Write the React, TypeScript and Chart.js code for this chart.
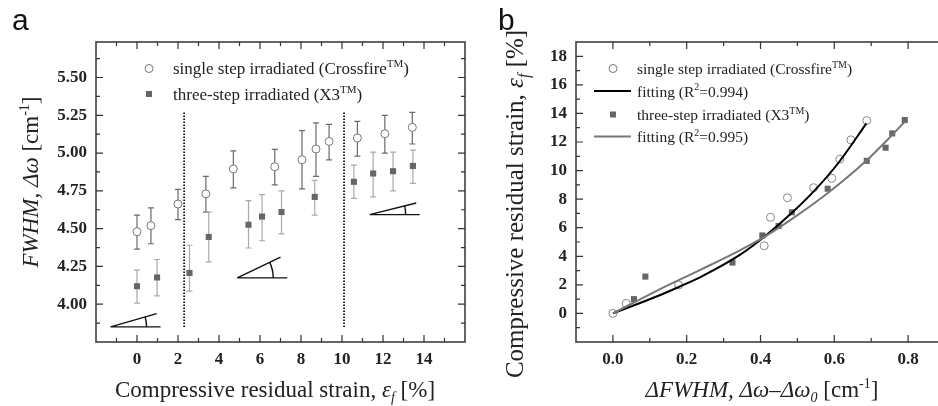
import React, { useEffect, useRef } from "react";
import { Chart, registerables } from "chart.js";
Chart.register(...registerables);

const SERIF = '"Liberation Serif", "Times New Roman", serif';
const SANS = '"Liberation Sans", Arial, sans-serif';

// ---------- Panel a data ----------
const A_CIRC_X = [0, 0.68, 2.0, 3.36, 4.7, 6.72, 8.05, 8.73, 9.37, 10.75, 12.09, 13.43];
const A_CIRC_Y = [4.48, 4.52, 4.663, 4.73, 4.895, 4.91, 4.956, 5.027, 5.077, 5.1, 5.128, 5.17];
const A_CIRC_HI = [4.59, 4.637, 4.76, 4.846, 5.015, 5.024, 5.148, 5.2, 5.19, 5.21, 5.25, 5.27];
const A_CIRC_LO = [4.365, 4.4, 4.56, 4.61, 4.77, 4.79, 4.763, 4.846, 4.955, 4.98, 5.0, 5.06];
const A_SQ_X = [0, 0.98, 2.56, 3.5, 5.44, 6.1, 7.05, 8.67, 10.58, 11.52, 12.49, 13.46];
const A_SQ_Y = [4.119, 4.177, 4.207, 4.445, 4.526, 4.58, 4.61, 4.71, 4.81, 4.865, 4.88, 4.915];
const A_SQ_HI = [4.225, 4.296, 4.39, 4.61, 4.685, 4.725, 4.75, 4.82, 4.92, 5.007, 5.007, 5.02];
const A_SQ_LO = [4.007, 4.055, 4.086, 4.28, 4.372, 4.42, 4.465, 4.59, 4.7, 4.71, 4.75, 4.8];
const A_DIVIDER_X = [2.3, 10.1];
const A_DIVIDER_Y = [3.85, 5.27];
const A_GLYPH_X = [-1.29, 4.89, 11.35];
const A_GLYPH_Y = [3.85, 4.174, 4.593];
const A_GLYPH_DEG = [16, 25.6, 14];
const A_X_TICKS = [0, 2, 4, 6, 8, 10, 12, 14];
const A_X_MINOR = [-1, 1, 3, 5, 7, 9, 11, 13, 15];
const A_Y_TICKS = [4.0, 4.25, 4.5, 4.75, 5.0, 5.25, 5.5];
const A_Y_MINOR = [3.875, 4.125, 4.375, 4.625, 4.875, 5.125, 5.375, 5.625];

// ---------- Panel b data ----------
const B_CIRC_X = [0, 0.036, 0.178, 0.41, 0.427, 0.473, 0.544, 0.593, 0.615, 0.645, 0.688];
const B_CIRC_Y = [0, 0.7, 1.99, 4.74, 6.73, 8.1, 8.8, 9.46, 10.8, 12.15, 13.5];
const B_SQ_X = [0.057, 0.088, 0.324, 0.405, 0.449, 0.485, 0.582, 0.688, 0.739, 0.757, 0.791];
const B_SQ_Y = [1.0, 2.58, 3.56, 5.46, 6.12, 7.08, 8.73, 10.68, 11.6, 12.6, 13.54];
const B_FIT1_X = [0, 0.12, 0.18, 0.241, 0.344, 0.407, 0.4875, 0.55, 0.613, 0.687];
const B_FIT1_Y = [0, 1.2, 1.87, 2.6, 4.1, 5.3, 7.1, 8.7, 10.6, 13.3];
const B_FIT2_X = [0, 0.12, 0.241, 0.344, 0.407, 0.4875, 0.586, 0.685, 0.757, 0.791];
const B_FIT2_Y = [0, 1.6, 3.1, 4.42, 5.3, 6.65, 8.5, 10.65, 12.5, 13.42];
const B_X_TICKS = [0, 0.2, 0.4, 0.6, 0.8];
const B_X_MINOR = [0.1, 0.3, 0.5, 0.7];
const B_Y_TICKS = [0, 2, 4, 6, 8, 10, 12, 14, 16, 18];
const B_Y_MINOR = [-1, 1, 3, 5, 7, 9, 11, 13, 15, 17];

type Seg = { t: string; i?: boolean; sup?: boolean; sub?: boolean };

const STRAIN_TITLE: Seg[] = [
  { t: "Compressive residual strain, " },
  { t: "ε", i: true },
  { t: "f", i: true, sub: true },
  { t: " [%]" },
];
const FWHM_TITLE: Seg[] = [
  { t: "FWHM, Δω", i: true },
  { t: " [cm" },
  { t: "-1", sup: true },
  { t: "]" },
];
const DFWHM_TITLE: Seg[] = [
  { t: "ΔFWHM, Δω–Δω", i: true },
  { t: "0", i: true, sub: true },
  { t: " [cm" },
  { t: "-1", sup: true },
  { t: "]" },
];
const LEG_CROSS: Seg[] = [{ t: "single step irradiated (Crossfire" }, { t: "TM", sup: true }, { t: ")" }];
const LEG_X3: Seg[] = [{ t: "three-step irradiated (X3" }, { t: "TM", sup: true }, { t: ")" }];
const LEG_FIT1: Seg[] = [{ t: "fitting (R" }, { t: "2", sup: true }, { t: "=0.994)" }];
const LEG_FIT2: Seg[] = [{ t: "fitting (R" }, { t: "2", sup: true }, { t: "=0.995)" }];

const INK = "#222";
const CIRC_COLOR = "#777";
const SQ_COLOR = "#666";
const CIRC_ERR = "#6a6a6a";
const SQ_ERR = "#aaa";

function drawRich(ctx: CanvasRenderingContext2D, segs: Seg[], x: number, y: number, size: number, align: "center" | "left", rot = false) {
  ctx.save();
  ctx.translate(x, y);
  if (rot) ctx.rotate(-Math.PI / 2);
  const fontOf = (s: Seg) => `${s.i ? "italic " : ""}${s.sup || s.sub ? Math.round(size * 0.62) : size}px ${SERIF}`;
  let total = 0;
  const widths = segs.map((s) => {
    ctx.font = fontOf(s);
    const w = ctx.measureText(s.t).width;
    total += w;
    return w;
  });
  let cx = align === "center" ? -total / 2 : 0;
  ctx.textBaseline = "alphabetic";
  ctx.textAlign = "left";
  ctx.fillStyle = INK;
  segs.forEach((s, k) => {
    ctx.font = fontOf(s);
    const dy = s.sup ? -size * 0.4 : s.sub ? size * 0.22 : 0;
    ctx.fillText(s.t, cx, dy);
    cx += widths[k];
  });
  ctx.restore();
}

type LegendRow = { kind: "circle" | "square" | "line"; color: string; segs: Seg[] };

type Spec = {
  label: string;
  labelX: number;
  xMajor: number[];
  xMinor: number[];
  yMajor: number[];
  yMinor: number[];
  xTitle: Seg[];
  xTitleX: number;
  xTitleSize: number;
  yTitle: Seg[];
  yTitleY: number;
  yTitleX: number;
  yTitleSize: number;
  legend: LegendRow[];
  legendSize: number;
  legendMarkerX: number;
  legendTextX: number;
  legendBaselines: number[];
  errors?: { xs: number[]; lo: number[]; hi: number[]; color: string }[];
  glyphs?: { xs: number[]; ys: number[]; deg: number[] };
};

function makePlugin(spec: Spec) {
  return {
    id: "frame_" + spec.label,
    beforeDatasetsDraw(chart: any) {
      const ctx: CanvasRenderingContext2D = chart.ctx;
      const xs = chart.scales.x;
      const ys = chart.scales.y;
      (spec.errors || []).forEach((e) => {
        ctx.save();
        ctx.strokeStyle = e.color;
        ctx.lineWidth = 1.2;
        e.xs.forEach((xv, k) => {
          const px = xs.getPixelForValue(xv);
          const p1 = ys.getPixelForValue(e.lo[k]);
          const p2 = ys.getPixelForValue(e.hi[k]);
          ctx.beginPath();
          ctx.moveTo(px, p1);
          ctx.lineTo(px, p2);
          ctx.moveTo(px - 3, p1);
          ctx.lineTo(px + 3, p1);
          ctx.moveTo(px - 3, p2);
          ctx.lineTo(px + 3, p2);
          ctx.stroke();
        });
        ctx.restore();
      });
      if (spec.glyphs) {
        const g = spec.glyphs;
        ctx.save();
        ctx.strokeStyle = "#111";
        ctx.lineWidth = 1.4;
        g.xs.forEach((xv, k) => {
          const ox = xs.getPixelForValue(xv);
          const oy = ys.getPixelForValue(g.ys[k]);
          const a = (g.deg[k] * Math.PI) / 180;
          ctx.beginPath();
          ctx.moveTo(ox, oy);
          ctx.lineTo(ox + 50, oy);
          ctx.moveTo(ox, oy);
          ctx.lineTo(ox + 48 * Math.cos(a), oy - 48 * Math.sin(a));
          ctx.stroke();
          ctx.beginPath();
          ctx.arc(ox, oy, 36, -a, 0);
          ctx.stroke();
        });
        ctx.restore();
      }
    },
    afterDraw(chart: any) {
      const ctx: CanvasRenderingContext2D = chart.ctx;
      const { left, right, top, bottom } = chart.chartArea;
      const xs = chart.scales.x;
      const ys = chart.scales.y;
      ctx.save();
      ctx.strokeStyle = "#333";
      ctx.lineWidth = 1.5;
      ctx.strokeRect(left, top, right - left, bottom - top);
      ctx.lineWidth = 1.2;
      ctx.beginPath();
      const tickX = (v: number, len: number) => {
        const p = xs.getPixelForValue(v);
        ctx.moveTo(p, bottom);
        ctx.lineTo(p, bottom - len);
        ctx.moveTo(p, top);
        ctx.lineTo(p, top + len);
      };
      const tickY = (v: number, len: number) => {
        const p = ys.getPixelForValue(v);
        ctx.moveTo(left, p);
        ctx.lineTo(left + len, p);
        ctx.moveTo(right, p);
        ctx.lineTo(right - len, p);
      };
      spec.xMajor.forEach((v) => tickX(v, 7));
      spec.xMinor.forEach((v) => tickX(v, 4));
      spec.yMajor.forEach((v) => tickY(v, 7));
      spec.yMinor.forEach((v) => tickY(v, 4));
      ctx.stroke();
      ctx.restore();

      // titles
      drawRich(ctx, spec.xTitle, spec.xTitleX, 397, spec.xTitleSize, "center");
      drawRich(ctx, spec.yTitle, spec.yTitleX, spec.yTitleY, spec.yTitleSize, "center", true);

      // legend
      spec.legend.forEach((row, k) => {
        const by = spec.legendBaselines[k];
        const my = by - 5.5;
        ctx.save();
        if (row.kind === "circle") {
          ctx.beginPath();
          ctx.arc(spec.legendMarkerX, my, 4, 0, Math.PI * 2);
          ctx.fillStyle = "#fff";
          ctx.fill();
          ctx.strokeStyle = row.color;
          ctx.lineWidth = 1;
          ctx.stroke();
        } else if (row.kind === "square") {
          ctx.fillStyle = row.color;
          ctx.fillRect(spec.legendMarkerX - 3, my - 3, 6, 6);
        } else {
          ctx.strokeStyle = row.color;
          ctx.lineWidth = 2;
          ctx.beginPath();
          ctx.moveTo(spec.legendMarkerX - 19, my);
          ctx.lineTo(spec.legendMarkerX + 18, my);
          ctx.stroke();
        }
        ctx.restore();
        drawRich(ctx, row.segs, spec.legendTextX, by, spec.legendSize, "left");
      });

      // panel letter
      ctx.save();
      ctx.font = `30px ${SANS}`;
      ctx.fillStyle = "#111";
      ctx.textBaseline = "alphabetic";
      ctx.fillText(spec.label, spec.labelX, 30);
      ctx.restore();
    },
  };
}

const pts = (xs: number[], ys: number[]) => xs.map((x, i) => ({ x, y: ys[i] }));

function baseScales(
  xMin: number, xMax: number, yMin: number, yMax: number,
  xTicks: number[], yTicks: number[], xDigits: number, yDigits: number,
  yWidth: number
) {
  const tickFont = { family: SERIF, size: 17, weight: "bold" as const };
  return {
    x: {
      type: "linear" as const,
      min: xMin,
      max: xMax,
      grid: { display: false, drawTicks: false },
      border: { display: false },
      afterBuildTicks: (axis: any) => {
        axis.ticks = xTicks.map((v) => ({ value: v }));
      },
      afterFit: (axis: any) => {
        axis.height = 64;
      },
      ticks: {
        autoSkip: false,
        maxRotation: 0,
        padding: 7,
        color: INK,
        font: tickFont,
        callback: (v: number) => Number(v).toFixed(xDigits),
      },
    },
    y: {
      type: "linear" as const,
      min: yMin,
      max: yMax,
      grid: { display: false, drawTicks: false },
      border: { display: false },
      afterBuildTicks: (axis: any) => {
        axis.ticks = yTicks.map((v) => ({ value: v }));
      },
      afterFit: (axis: any) => {
        axis.width = yWidth;
      },
      ticks: {
        autoSkip: false,
        padding: 9,
        color: INK,
        font: tickFont,
        callback: (v: number) => Number(v).toFixed(yDigits),
      },
    },
  };
}

function configA() {
  const spec: Spec = {
    label: "a",
    labelX: 12,
    xMajor: A_X_TICKS,
    xMinor: A_X_MINOR,
    yMajor: A_Y_TICKS,
    yMinor: A_Y_MINOR,
    xTitle: STRAIN_TITLE,
    xTitleX: 275,
    xTitleSize: 23,
    yTitle: FWHM_TITLE,
    yTitleY: 182,
    yTitleX: 38,
    yTitleSize: 23,
    legend: [
      { kind: "circle", color: CIRC_COLOR, segs: LEG_CROSS },
      { kind: "square", color: SQ_COLOR, segs: LEG_X3 },
    ],
    legendSize: 17,
    legendMarkerX: 149,
    legendTextX: 173,
    legendBaselines: [74, 99.5],
    errors: [
      { xs: A_CIRC_X, lo: A_CIRC_LO, hi: A_CIRC_HI, color: CIRC_ERR },
      { xs: A_SQ_X, lo: A_SQ_LO, hi: A_SQ_HI, color: SQ_ERR },
    ],
    glyphs: { xs: A_GLYPH_X, ys: A_GLYPH_Y, deg: A_GLYPH_DEG },
  };
  return {
    type: "scatter" as const,
    data: {
      datasets: [
        ...A_DIVIDER_X.map((dx) => ({
          type: "line" as const,
          data: A_DIVIDER_Y.map((y) => ({ x: dx, y })),
          borderColor: "#111",
          borderWidth: 1.8,
          borderDash: [1.5, 1.5],
          pointRadius: 0,
          showLine: true,
        })),
        {
          data: pts(A_SQ_X, A_SQ_Y),
          pointStyle: "rect",
          pointRadius: 4.3,
          backgroundColor: SQ_COLOR,
          borderColor: SQ_COLOR,
          borderWidth: 0,
        },
        {
          data: pts(A_CIRC_X, A_CIRC_Y),
          pointStyle: "circle",
          pointRadius: 4,
          backgroundColor: "#fff",
          borderColor: CIRC_COLOR,
          borderWidth: 1,
        },
      ],
    },
    options: {
      responsive: false,
      animation: false as const,
      layout: { padding: { top: 42, left: 0, right: 3, bottom: 0 } },
      plugins: { legend: { display: false }, tooltip: { enabled: false } },
      scales: baseScales(-2, 16, 3.75, 5.735, A_X_TICKS, A_Y_TICKS, 0, 2, 96),
    },
    plugins: [makePlugin(spec)],
  };
}

function configB() {
  const spec: Spec = {
    label: "b",
    labelX: 28,
    xMajor: B_X_TICKS,
    xMinor: B_X_MINOR,
    yMajor: B_Y_TICKS,
    yMinor: B_Y_MINOR,
    xTitle: DFWHM_TITLE,
    xTitleX: 292,
    xTitleSize: 23,
    yTitle: STRAIN_TITLE,
    yTitleY: 204,
    yTitleX: 53,
    yTitleSize: 25,
    legend: [
      { kind: "circle", color: CIRC_COLOR, segs: LEG_CROSS },
      { kind: "line", color: "#000", segs: LEG_FIT1 },
      { kind: "square", color: SQ_COLOR, segs: LEG_X3 },
      { kind: "line", color: "#777", segs: LEG_FIT2 },
    ],
    legendSize: 15.5,
    legendMarkerX: 143,
    legendTextX: 167,
    legendBaselines: [74, 96.5, 120, 142],
  };
  return {
    type: "scatter" as const,
    data: {
      datasets: [
        {
          type: "line" as const,
          data: pts(B_FIT2_X, B_FIT2_Y),
          borderColor: "#777",
          borderWidth: 2,
          pointRadius: 0,
          showLine: true,
          cubicInterpolationMode: "monotone" as const,
        },
        {
          type: "line" as const,
          data: pts(B_FIT1_X, B_FIT1_Y),
          borderColor: "#000",
          borderWidth: 2,
          pointRadius: 0,
          showLine: true,
          cubicInterpolationMode: "monotone" as const,
        },
        {
          data: pts(B_SQ_X, B_SQ_Y),
          pointStyle: "rect",
          pointRadius: 4.3,
          backgroundColor: SQ_COLOR,
          borderColor: SQ_COLOR,
          borderWidth: 0,
        },
        {
          data: pts(B_CIRC_X, B_CIRC_Y),
          pointStyle: "circle",
          pointRadius: 4,
          backgroundColor: "rgba(255,255,255,0)",
          borderColor: "#888",
          borderWidth: 1,
        },
      ],
    },
    options: {
      responsive: false,
      animation: false as const,
      layout: { padding: { top: 42, left: 0, right: 4, bottom: 0 } },
      plugins: { legend: { display: false }, tooltip: { enabled: false } },
      scales: baseScales(-0.1, 0.9, -2, 19, B_X_TICKS, B_Y_TICKS, 1, 0, 106),
    },
    plugins: [makePlugin(spec)],
  };
}

function ChartCanvas({ make, left, width }: { make: () => any; left: number; width: number }) {
  const ref = useRef<HTMLCanvasElement | null>(null);
  useEffect(() => {
    if (!ref.current) return;
    const chart = new Chart(ref.current, make());
    return () => chart.destroy();
  }, []);
  return (
    <canvas
      ref={ref}
      width={width}
      height={406}
      style={{ position: "absolute", left, top: 0, width, height: 406, display: "block" }}
    />
  );
}

export default function App() {
  return (
    <div
      style={{
        position: "fixed",
        left: 0,
        top: 0,
        width: 938,
        height: 406,
        overflow: "hidden",
        background: "#fff",
      }}
    >
      <ChartCanvas make={configA} left={0} width={470} />
      <ChartCanvas make={configB} left={470} width={480} />
    </div>
  );
}
